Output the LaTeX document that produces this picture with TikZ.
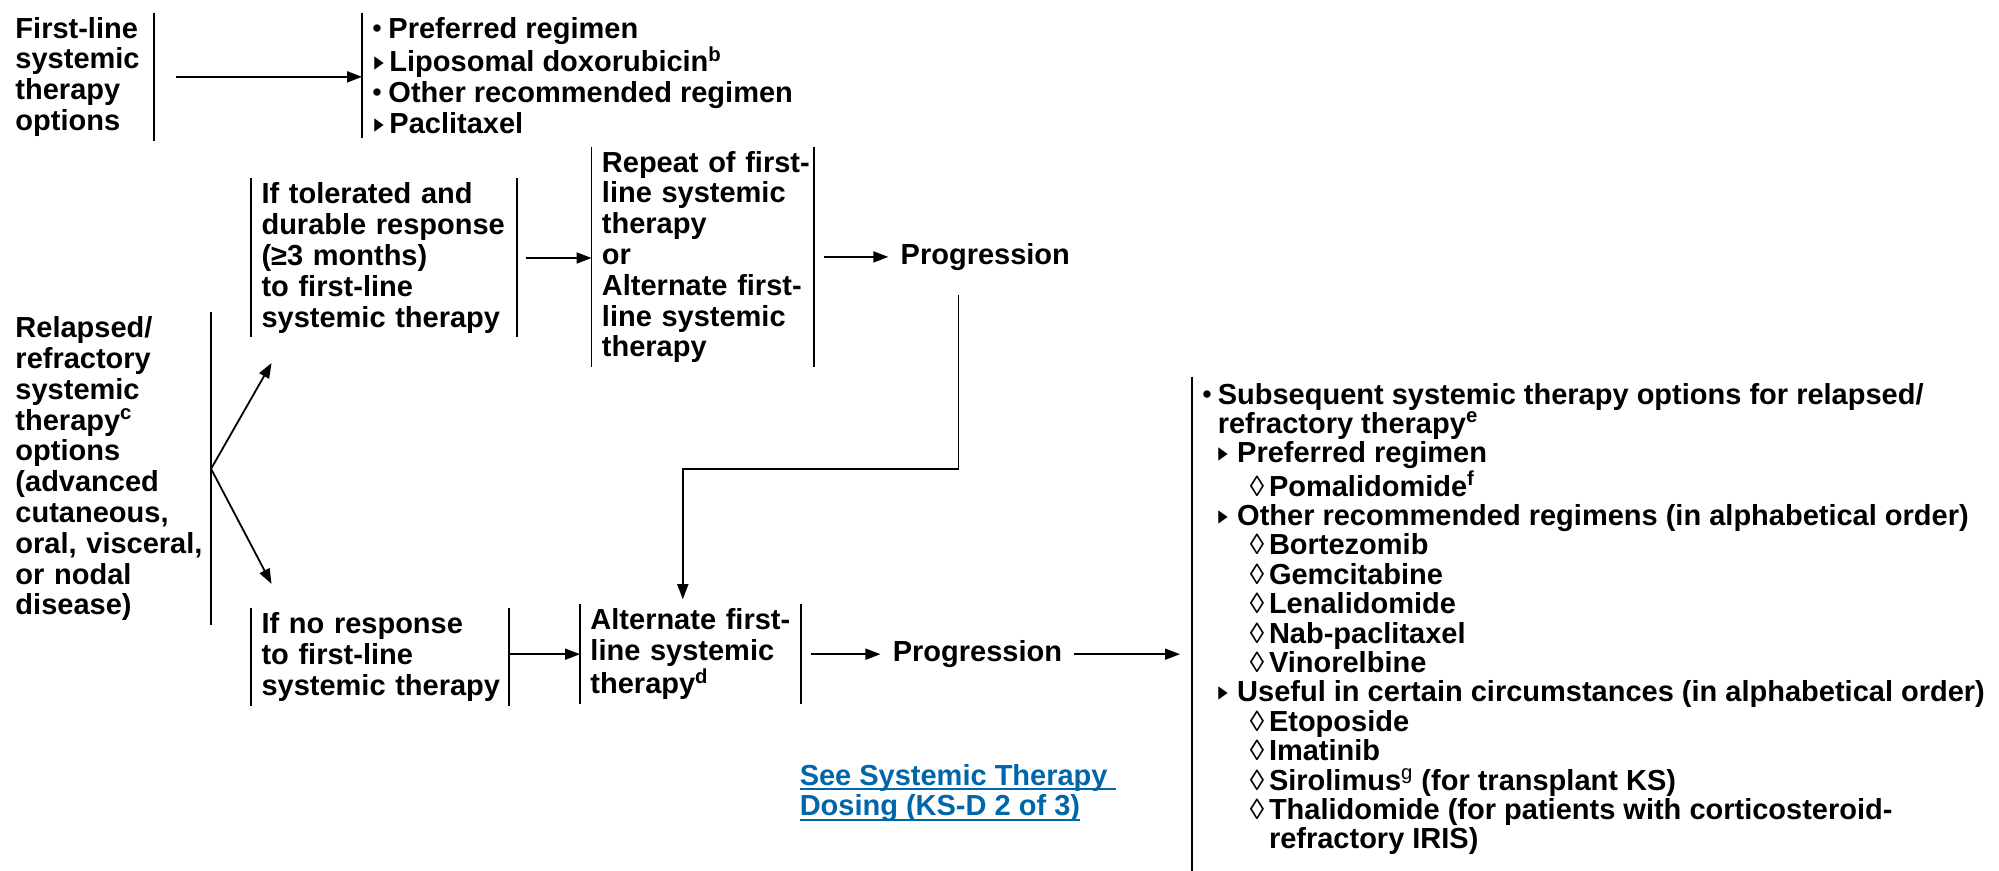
\documentclass[tikz,border=0pt]{standalone}
\usepackage{fontspec}
\setmainfont{Liberation Sans}
\newfontfamily\symfont{DejaVu Sans}
\usetikzlibrary{arrows.meta,calc,positioning}

\definecolor{linkblue}{HTML}{0066AA}

\newcommand\boxfont{\bfseries\fontsize{14.5pt}{15.4pt}\selectfont\hyphenpenalty=10000 \exhyphenpenalty=10000 }
\newcommand\listfont{\bfseries\fontsize{14.5pt}{14.7pt}\selectfont\hyphenpenalty=10000 \exhyphenpenalty=10000 }
\newcommand\dotmark[1]{\makebox[#1][l]{\raisebox{0.3pt}{\mdseries\fontsize{13.5pt}{13.5pt}\selectfont •}}}
\newcommand\trimark[1]{\makebox[#1][l]{\raisebox{0.5pt}{\scalebox{0.7}[1]{\symfont\fontsize{13.5pt}{13.5pt}\selectfont ▸}}}}
\newcommand\lozmark{\makebox[9.6pt][l]{\mdseries ◊}}
\newcommand\linkline[1]{\setbox0\hbox{#1}\rlap{\rule[-2.4pt]{\wd0}{1pt}}\box0}

\begin{document}
\begin{tikzpicture}[
    x=0.6375pt, y=-0.6375pt,
    bar/.style={draw, line width=0.9pt},
    arr/.style={-{Triangle[length=7.5pt,width=5.5pt]}, line width=0.9pt},
    box/.style={anchor=north west, align=left, inner xsep=5pt, inner ysep=2pt, font=\boxfont},
    lbar/.style={append after command={(\tikzlastnode.north west) edge[bar] (\tikzlastnode.south west)}},
    rbar/.style={append after command={(\tikzlastnode.north east) edge[bar] (\tikzlastnode.south east)}},
    plain/.style={anchor=west, inner xsep=6pt, inner ysep=2pt, font=\boxfont}
    ]
    \path[fill=white, use as bounding box] (0,0) rectangle (1568,683);

    % first-line row
    \node[box, rbar, text width=64pt] (first) at (4,10)
        {First-line\\systemic\\therapy\\options};
    \node[box, lbar] (firstlist) at (284,10)
        {\dotmark{8pt}Preferred regimen\\
         \hspace*{1pt}\trimark{7.5pt}Liposomal doxorubicin\textsuperscript{b}\\
         \dotmark{8pt}Other recommended regimen\\
         \hspace*{1pt}\trimark{7.5pt}Paclitaxel};

    % relapsed/refractory
    \node[box, rbar, text width=92.6pt] (relapsed) at (4,245)
        {Relapsed/\\refractory\\systemic\\therapy\textsuperscript{c}\\options\\(advanced\\cutaneous,\\oral,~visceral,\\or nodal\\disease)};
    \node[box, lbar, rbar, text width=122.6pt] (tol) at (197,140)
        {If tolerated and\\durable~response\\(≥3 months)\\to first-line\\systemic~therapy};
    \node[box, lbar, rbar, text width=101pt] (rep) at (464,115)
        {Repeat~of~first-\\line systemic\\therapy\\or\\Alternate~first-\\line systemic\\therapy};
    \node[plain] (prog1) at ([xshift=37pt]rep.east) {Progression};

    \node[box, lbar, rbar, text width=118.5pt] (nores) at (197,477)
        {If no response\\to first-line\\systemic~therapy};
    \node[box, lbar, rbar, text width=100pt] (alt) at (455,474)
        {Alternate~first-\\line systemic\\therapy\textsuperscript{d}};
    \node[plain] (prog2) at ([xshift=39.8pt]alt.east) {Progression};

    % subsequent options
    \node[box, font=\listfont] (sub) at (935,297)
        {\dotmark{7.7pt}Subsequent systemic therapy options for relapsed/\\
         \hspace*{7.7pt}refractory therapy\textsuperscript{e}\\
         \hspace*{8pt}\trimark{9.4pt}Preferred regimen\\
         \hspace*{23.7pt}\lozmark Pomalidomide\textsuperscript{f}\\
         \hspace*{8pt}\trimark{9.4pt}Other recommended regimens (in alphabetical order)\\
         \hspace*{23.7pt}\lozmark Bortezomib\\
         \hspace*{23.7pt}\lozmark Gemcitabine\\
         \hspace*{23.7pt}\lozmark Lenalidomide\\
         \hspace*{23.7pt}\lozmark Nab-paclitaxel\\
         \hspace*{23.7pt}\lozmark Vinorelbine\\
         \hspace*{8pt}\trimark{9.4pt}Useful in certain circumstances (in alphabetical order)\\
         \hspace*{23.7pt}\lozmark Etoposide\\
         \hspace*{23.7pt}\lozmark Imatinib\\
         \hspace*{23.7pt}\lozmark Sirolimus\textsuperscript{\mdseries g} (for transplant KS)\\
         \hspace*{23.7pt}\lozmark Thalidomide (for patients with corticosteroid-\\
         \hspace*{33.3pt}refractory IRIS)};
    \coordinate (subend) at (935,683);
    \draw[bar] ([yshift=1pt]sub.north west) -- (subend);

    \node[anchor=north west, align=left, inner sep=0pt, text=linkblue,
          font=\bfseries\fontsize{14.5pt}{15.4pt}\selectfont] (dosing) at (627,599)
        {\linkline{See Systemic Therapy\ }\\\linkline{Dosing (KS-D 2 of 3)}};

    % arrows
    \draw[arr] ([xshift=11pt]first.east) -- (first.east -| firstlist.west);
    \draw[arr] (relapsed.east) -- ($(tol.south west)+(16,20)$);
    \draw[arr] (relapsed.east) -- ($(nores.north west)+(16,-19)$);
    \draw[arr] ([xshift=4.5pt]tol.east) -- (tol.east -| rep.west);
    \draw[arr] ([xshift=5pt]rep.east) -- (prog1.west);
    \coordinate (turn) at ($(alt.north)+(-6,-106)$);
    \draw[arr] ($(prog1.south)+(-21,16)$) |- (turn) -- ($(alt.north)+(-6,-4)$);
    \draw[arr] (nores.east |- alt.west) -- (alt.west);
    \draw[arr] ([xshift=5pt]alt.east) -- (prog2.west);
    \draw[arr] (prog2.east) -- ([xshift=-6pt]prog2.east -| sub.west);
\end{tikzpicture}
\end{document}
